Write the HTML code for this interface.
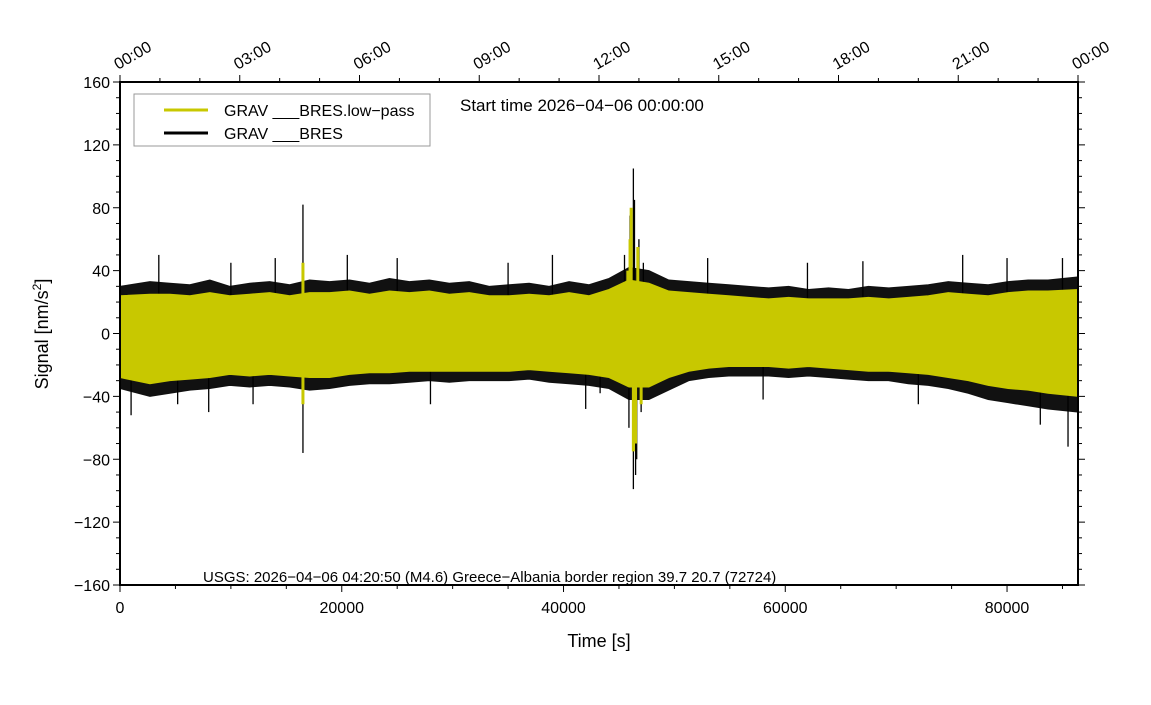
<!DOCTYPE html>
<html><head><meta charset="utf-8"><style>
body{margin:0;background:#fff}
svg text{font-family:"Liberation Sans",sans-serif;fill:#000}
</style></head><body>
<svg width="1151" height="700" viewBox="0 0 1151 700">
<g id="marks"></g>
<g id="axes"></g>
<rect x="134" y="94" width="296" height="52" fill="#fff" stroke="#999" stroke-width="1"/>
<line x1="164" y1="110" x2="208" y2="110" stroke="#c8c800" stroke-width="3"/>
<text x="224" y="116" font-size="16">GRAV ___BRES.low−pass</text>
<line x1="164" y1="133" x2="208" y2="133" stroke="#000" stroke-width="3"/>
<text x="224" y="139" font-size="16">GRAV ___BRES</text>
<text x="460" y="111" font-size="17">Start time 2026−04−06 00:00:00</text>
<text x="203" y="582" font-size="15">USGS: 2026−04−06 04:20:50 (M4.6) Greece−Albania border region 39.7 20.7 (72724)</text>
<text x="599" y="647" font-size="18" text-anchor="middle">Time [s]</text>
<text transform="translate(48,334) rotate(-90)" font-size="18" text-anchor="middle">Signal [nm/s<tspan font-size="12" dy="-7">2</tspan><tspan dy="7">]</tspan></text>
</svg>
<script>
const binSize = 1800;
const blackUp = [30,33,32,31,34,30,32,33,31,34,33,34,32,35,33,34,32,33,30,31,32,30,33,31,35,42,40,34,33,32,31,30,29,30,28,29,28,30,29,30,31,33,32,31,33,34,34,36];
const blackLo = [-35,-40,-38,-36,-35,-33,-34,-33,-34,-36,-35,-33,-32,-32,-31,-30,-31,-30,-30,-30,-29,-31,-32,-33,-35,-42,-42,-36,-30,-28,-27,-27,-27,-28,-27,-28,-29,-30,-30,-32,-33,-35,-38,-42,-44,-46,-48,-50];
const yelUp = [24,25,25,24,26,24,25,26,24,26,26,27,25,27,26,27,25,26,24,24,25,24,26,24,28,34,32,27,26,25,24,23,22,23,22,22,22,23,22,23,24,26,25,24,26,27,27,28];
const yelLo = [-28,-32,-30,-29,-28,-26,-27,-26,-27,-28,-28,-26,-25,-25,-24,-24,-24,-24,-24,-24,-23,-24,-25,-26,-28,-34,-34,-28,-24,-22,-21,-21,-21,-22,-21,-22,-23,-24,-24,-25,-26,-28,-30,-33,-35,-36,-38,-40];
const spikeT = [16500,16500,46300,46300,45500,46000,46800,47200,45900,46600,47000,46400,46500,3500,5200,8000,10000,14000,20500,25000,28000,35000,39000,42000,43300,53000,58000,62000,67000,72000,76000,80000,83000,85500,85000,1000,12000];
const spikeV = [82,-76,105,-99,50,75,60,45,-60,-80,-50,85,-90,50,-45,-50,45,48,50,48,-45,45,50,-48,-38,48,-42,45,46,-45,50,48,-58,-72,48,-52,-45];
const ySpikeT = [46100,46300,46000,46500,46700,45800,47000,16500,16500];
const ySpikeV = [80,-75,60,-70,55,40,-45,45,-45];
const yTicks = [-160,-120,-80,-40,0,40,80,120,160];
const xTicks = [0,20000,40000,60000,80000];
const topLabels = ["00:00","03:00","06:00","09:00","12:00","15:00","18:00","21:00","00:00"];

const X0=120,X1=1078,Y0=82,Y1=585;
const sx = t => X0 + (t/86400)*(X1-X0);
const sy = v => Y1 - (v+160)/320*(Y1-Y0);
const NS="http://www.w3.org/2000/svg";
const marks=document.getElementById('marks'), axes=document.getElementById('axes');
function mk(tag,attrs,parent){const e=document.createElementNS(NS,tag);for(const k in attrs)e.setAttribute(k,attrs[k]);parent.appendChild(e);return e;}

function band(up,lo,fill){
  let pts=[];
  const n=up.length;
  up.forEach((v,i)=>{const t=i===0?0:(i===n-1?86400:(i+0.5)*binSize);pts.push(sx(t)+','+sy(v));});
  for(let i=n-1;i>=0;i--){const t=i===0?0:(i===n-1?86400:(i+0.5)*binSize);pts.push(sx(t)+','+sy(lo[i]));}
  return mk('polygon',{points:pts.join(' '),fill:fill,stroke:fill,'stroke-width':1},marks);
}
const bb=band(blackUp,blackLo,'#111');


spikeT.forEach((t,i)=>{
  const l=mk('line',{x1:sx(t),x2:sx(t),y1:sy(0),y2:sy(spikeV[i]),stroke:'#000','stroke-width':1.3},marks);
  
  
});
const yb=band(yelUp,yelLo,'#c8c800');


ySpikeT.forEach((t,i)=>{
  const l=mk('line',{x1:sx(t),x2:sx(t),y1:sy(0),y2:sy(ySpikeV[i]),stroke:'#c8c800','stroke-width':3},marks);
  
  
});

const fr=mk('rect',{x:X0,y:Y0,width:X1-X0,height:Y1-Y0,fill:'none',stroke:'#000','stroke-width':2},axes);


for(let v=-160;v<=160;v+=10){
  const len=(v%40===0)?7:4;
  mk('line',{x1:X0-len,x2:X0,y1:sy(v),y2:sy(v),stroke:'#000'},axes);
  mk('line',{x1:X1,x2:X1+len,y1:sy(v),y2:sy(v),stroke:'#000'},axes);
}
yTicks.forEach(v=>{
  const t=mk('text',{x:X0-10,y:sy(v)+6,'font-size':16,'text-anchor':'end'},axes);
  t.textContent=(v<0?'−'+(-v):v);
  
  
});
for(let t=0;t<=86400;t+=5000){
  const len=(t%20000===0)?7:4;
  mk('line',{x1:sx(t),x2:sx(t),y1:Y1,y2:Y1+len,stroke:'#000'},axes);
}
xTicks.forEach(v=>{
  const t=mk('text',{x:sx(v),y:Y1+28,'font-size':16,'text-anchor':'middle'},axes);
  t.textContent=v;
  
  
});
for(let h=0;h<=24;h++){
  const len=(h%3===0)?7:4;
  mk('line',{x1:sx(h*3600),x2:sx(h*3600),y1:Y0-len,y2:Y0,stroke:'#000'},axes);
}
topLabels.forEach((s,i)=>{
  const x=sx(i*10800);
  const t=mk('text',{transform:`translate(${x-2},${Y0-12}) rotate(-30)`,'font-size':16},axes);
  t.textContent=s;
  
  
});
</script>
</body></html>
